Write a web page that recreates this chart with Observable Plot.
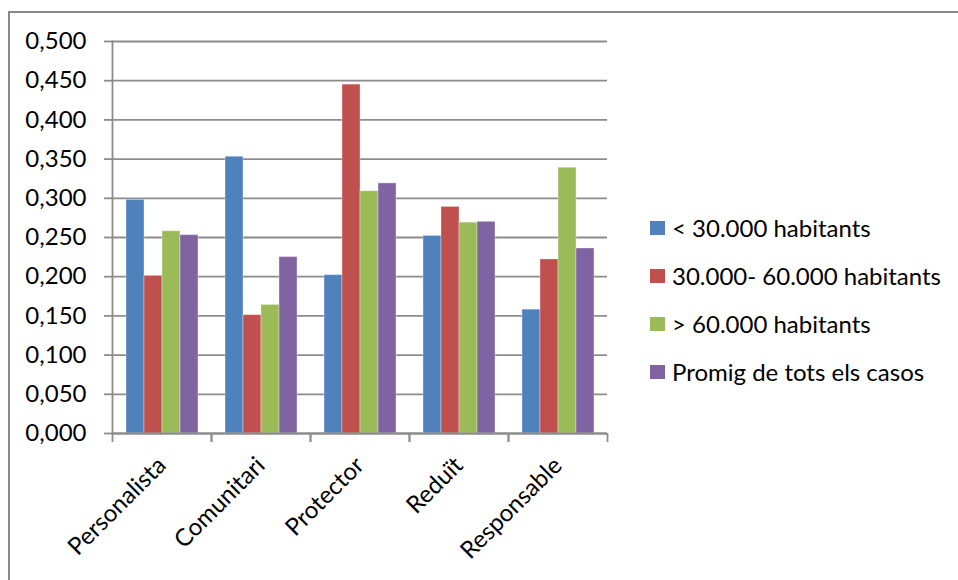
<!DOCTYPE html>
<html>
<head>
<meta charset="utf-8">
<script src="https://cdn.jsdelivr.net/npm/d3@7"></script>
<script src="https://cdn.jsdelivr.net/npm/@observablehq/plot@0.6"></script>
<style>
  body { margin: 0; background: #fff; font-family: Lato, sans-serif; }
  #wrap { position: relative; width: 958px; height: 580px; overflow: hidden; background: #fff; }
  #frame { position: absolute; left: 8px; top: 11px; width: 1000px; height: 1000px;
           border: 2px solid #8a8a8a; box-sizing: border-box; }
  #chart { position: absolute; left: 0; top: 0; }
  #legend { position: absolute; left: 650px; top: 203.5px; font-size: 24px; color: #000; }
  .row { height: 48px; display: flex; align-items: center; white-space: nowrap; }
  .sw { width: 15px; height: 14px; margin-right: 7px; flex: none; }
</style>
</head>
<body>
<div id="wrap">
  <div id="frame"></div>
  <div id="chart"></div>
  <div id="legend"></div>
</div>
<script>
// Consumer profiles and population groups
const categories = ["Personalista", "Comunitari", "Protector", "Reduït", "Responsable"];
const series = ["< 30.000 habitants", "30.000- 60.000 habitants", "> 60.000 habitants", "Promig de tots els casos"];
const colors = ["#4F81BD", "#C0504D", "#9BBB59", "#8064A2"];

// One array per population group, in category order
const under30k = [0.298, 0.353, 0.202, 0.252, 0.158];
const from30to60k = [0.201, 0.151, 0.445, 0.289, 0.222];
const over60k = [0.258, 0.164, 0.309, 0.269, 0.339];
const average = [0.253, 0.225, 0.319, 0.270, 0.236];
const seriesValues = [under30k, from30to60k, over60k, average];

const yTicks = [0, 0.05, 0.1, 0.15, 0.2, 0.25, 0.3, 0.35, 0.4, 0.45, 0.5];

const rows = categories.flatMap((c, i) =>
  series.map((s, j) => ({category: c, series: s, value: seriesValues[j][i]}))
);

const W = 958, H = 580;
const mL = 112, mR = 351, mT = 41, mB = 147;
const band = (W - mL - mR) / categories.length;
const gray = "#8c8c8c";
const fmt = d => d.toFixed(3).replace(".", ",");

const chart = Plot.plot({
  width: W,
  height: H,
  marginLeft: mL,
  marginRight: mR,
  marginTop: mT,
  marginBottom: mB,
  style: {fontFamily: "Lato, sans-serif", fontSize: "24px", color: "#000", background: "transparent", overflow: "visible"},
  fx: {domain: categories, padding: 0, label: null},
  x: {domain: series, paddingInner: 0, paddingOuter: 0.72, axis: null},
  y: {domain: [0, 0.5], label: null, axis: null},
  color: {domain: series, range: colors},
  marks: [
    Plot.gridY(yTicks, {stroke: gray, strokeOpacity: 1, strokeWidth: 1.8}),
    Plot.barY(rows, {fx: "category", x: "series", y: "value", fill: "series",
                     stroke: "#fff", strokeOpacity: 0.35, strokeWidth: 1}),
    Plot.ruleY([0], {stroke: gray, strokeWidth: 1.8}),
    Plot.frame({anchor: "left", facet: "super", stroke: gray, strokeWidth: 1.8}),
    Plot.axisY(yTicks, {anchor: "left", tickSize: 8, tickPadding: 18, tickFormat: fmt,
                        stroke: gray, strokeWidth: 1.8, fill: "#000", label: null}),
    Plot.axisFx({anchor: "bottom", tickSize: 9, tickFormat: () => "", dx: -band / 2,
                 stroke: gray, strokeWidth: 1.8, label: null}),
    Plot.axisFx({anchor: "bottom", tickSize: 9, tickFormat: () => "", dx: band / 2,
                 stroke: gray, strokeWidth: 1.8, label: null}),
    Plot.axisFx({anchor: "bottom", tickSize: 0, tickRotate: -45, tickPadding: 28,
                 fill: "#000", label: null})
  ]
});
document.getElementById("chart").appendChild(chart);

const legend = document.getElementById("legend");
series.forEach((s, i) => {
  const row = document.createElement("div");
  row.className = "row";
  const sw = document.createElement("span");
  sw.className = "sw";
  sw.style.background = colors[i];
  const label = document.createElement("span");
  label.textContent = s;
  row.appendChild(sw);
  row.appendChild(label);
  legend.appendChild(row);
});
</script>
</body>
</html>
